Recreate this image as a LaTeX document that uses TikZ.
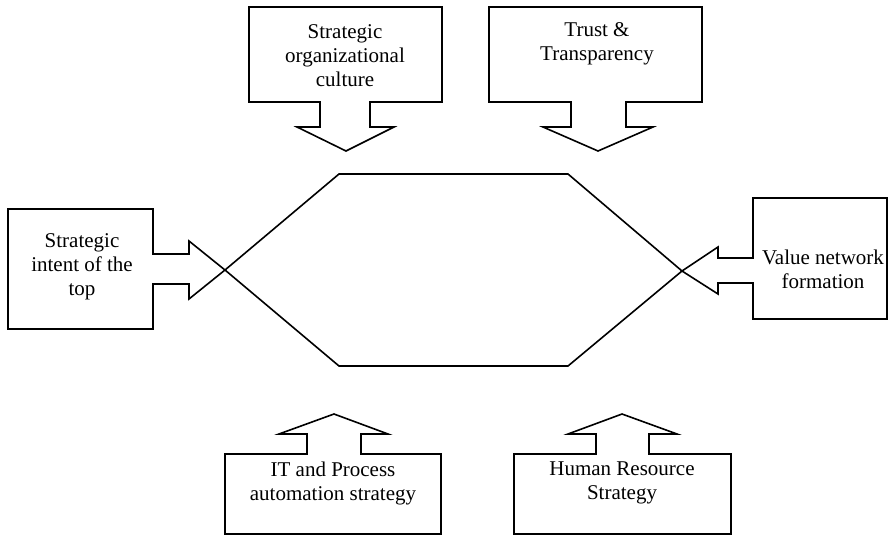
\documentclass[tikz,border=0pt]{standalone}
\usepackage{fontspec}
\setmainfont{Liberation Serif}
\begin{document}
\begin{tikzpicture}[x=1pt,y=-1pt,
  shapeline/.style={draw=black,line width=1.6pt,line join=miter},
  lbl/.style={align=center,inner sep=0pt,font=\fontsize{21}{24}\selectfont}]
\useasboundingbox (0,0) rectangle (890,535);
% central hexagon
\draw[shapeline] (339,174) -- (568,174) -- (682,271) -- (568,366) -- (339,366) -- (225,270) -- cycle;
% top-left callout
\draw[shapeline] (249,7) -- (442,7) -- (442,102) -- (370,102) -- (370,127) -- (394,127) -- (346,151) -- (297,127) -- (320,127) -- (320,102) -- (249,102) -- cycle;
% top-right callout
\draw[shapeline] (489,7) -- (702,7) -- (702,102) -- (626,102) -- (626,127) -- (653,127) -- (598,151) -- (543,127) -- (571,127) -- (571,102) -- (489,102) -- cycle;
% left callout
\draw[shapeline] (8,209) -- (153,209) -- (153,254) -- (189,254) -- (189,241) -- (225,270) -- (189,299) -- (189,284) -- (153,284) -- (153,329) -- (8,329) -- cycle;
% right callout
\draw[shapeline] (887,198) -- (753,198) -- (753,258) -- (718,258) -- (718,247) -- (682,271) -- (718,294) -- (718,283) -- (753,283) -- (753,319) -- (887,319) -- cycle;
% bottom-left callout
\draw[shapeline] (225,534) -- (225,454) -- (307,454) -- (307,434) -- (279,434) -- (334,414) -- (388,434) -- (361,434) -- (361,454) -- (441,454) -- (441,534) -- cycle;
% bottom-right callout
\draw[shapeline] (514,534) -- (514,454) -- (596,454) -- (596,434) -- (568,434) -- (622,414) -- (677,434) -- (649,434) -- (649,454) -- (731,454) -- (731,534) -- cycle;
% labels
\node[lbl] (culture) at (345,56) {Strategic\\organizational\\culture};
\node[lbl] (trust) at (597,44) {Trust \&\\Transparency};
\node[lbl] (intent) at (82,267) {Strategic\\intent of the\\top};
\node[lbl] (value) at (823,269) {Value network\\formation};
\node[lbl] (it) at (333,483) {IT and Process\\automation strategy};
\node[lbl] (hr) at (622,483) {Human Resource\\Strategy};
\end{tikzpicture}
\end{document}
